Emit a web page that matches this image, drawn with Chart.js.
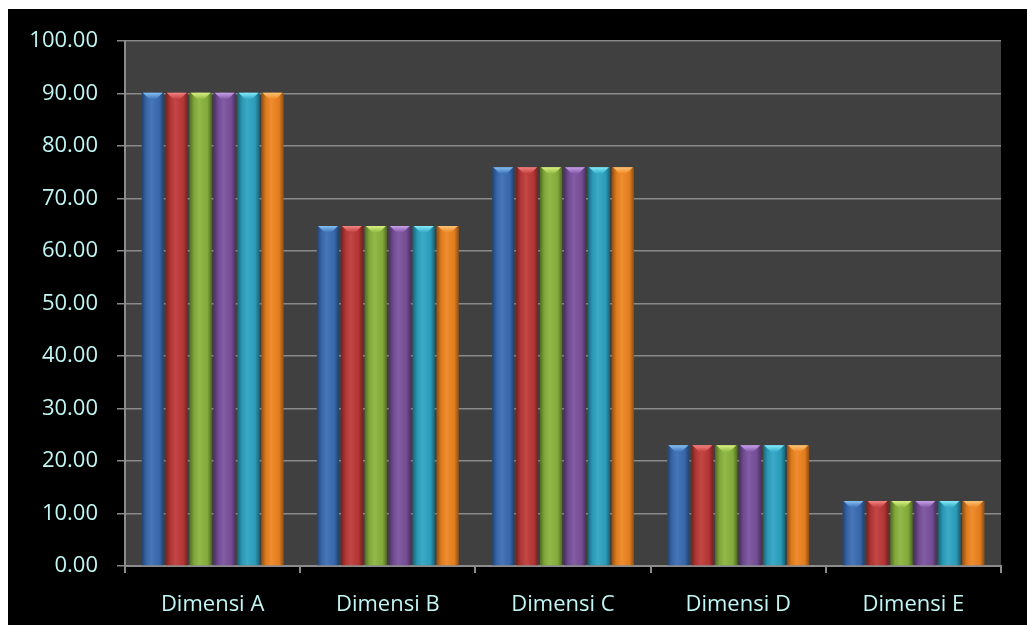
<!DOCTYPE html>
<html>
<head>
<meta charset="utf-8">
<script src="https://cdn.jsdelivr.net/npm/chart.js@4/dist/chart.umd.min.js"></script>
<style>
  html, body { margin: 0; padding: 0; background: #ffffff; }
  #wrap { position: absolute; left: 8px; top: 9px; width: 1019px; height: 616px; background: #000000; }
  canvas { display: block; }
</style>
</head>
<body>
<div id="wrap"><canvas id="c" width="1019" height="616"></canvas></div>
<script>
const categories = ['Dimensi A', 'Dimensi B', 'Dimensi C', 'Dimensi D', 'Dimensi E'];
const seriesNames = ['Series 1', 'Series 2', 'Series 3', 'Series 4', 'Series 5', 'Series 6'];
const series1 = [90.2, 64.8, 76.0, 23.0, 12.4];
const series2 = [90.2, 64.8, 76.0, 23.0, 12.4];
const series3 = [90.2, 64.8, 76.0, 23.0, 12.4];
const series4 = [90.2, 64.8, 76.0, 23.0, 12.4];
const series5 = [90.2, 64.8, 76.0, 23.0, 12.4];
const series6 = [90.2, 64.8, 76.0, 23.0, 12.4];
const yMin = 0, yMax = 100, yStep = 10;

const baseColors = ['#3a6cb3', '#bd3937', '#8ab43d', '#7a519d', '#2da4c3', '#ee8420'];
const topColors  = ['#86c2f4', '#f38484', '#dcf286', '#c9a2ec', '#86ecfa', '#fcc478'];

const allSeries = [series1, series2, series3, series4, series5, series6];

const plotBg = {
  id: 'plotBg',
  beforeDraw(chart) {
    const {ctx, chartArea: a} = chart;
    ctx.save();
    ctx.fillStyle = '#404040';
    ctx.fillRect(a.left, a.top, a.right - a.left, a.bottom - a.top);
    ctx.restore();
  }
};

const barShade = {
  id: 'barShade',
  afterDatasetsDraw(chart) {
    const ctx = chart.ctx;
    chart.data.datasets.forEach((ds, di) => {
      const meta = chart.getDatasetMeta(di);
      meta.data.forEach(bar => {
        const w = bar.width, l = bar.x - w / 2, r = bar.x + w / 2;
        const top = bar.y, bottom = bar.base;
        ctx.save();
        const g = ctx.createLinearGradient(l, 0, r, 0);
        g.addColorStop(0, 'rgba(0,0,0,0.40)');
        g.addColorStop(0.2, 'rgba(0,0,0,0.08)');
        g.addColorStop(0.45, 'rgba(255,255,255,0.07)');
        g.addColorStop(0.8, 'rgba(0,0,0,0.05)');
        g.addColorStop(1, 'rgba(0,0,0,0.40)');
        ctx.fillStyle = g;
        ctx.fillRect(l, top, w, bottom - top);
        // top bevel highlight
        const h = 7;
        const tg = ctx.createLinearGradient(0, top, 0, top + h);
        tg.addColorStop(0, topColors[di]);
        tg.addColorStop(1, baseColors[di]);
        ctx.fillStyle = tg;
        ctx.beginPath();
        ctx.moveTo(l + 1, top);
        ctx.lineTo(r - 1, top);
        ctx.lineTo(bar.x + w * 0.12, top + h);
        ctx.lineTo(bar.x - w * 0.12, top + h);
        ctx.closePath();
        ctx.fill();
        ctx.restore();
      });
    });
  }
};

const fontFamily = '"Open Sans", "DejaVu Sans", sans-serif';
const textColor = '#c0f6f4';

new Chart(document.getElementById('c'), {
  type: 'bar',
  data: {
    labels: categories,
    datasets: allSeries.map((vals, i) => ({
      label: seriesNames[i],
      data: vals,
      backgroundColor: baseColors[i],
      borderWidth: 0,
      categoryPercentage: 0.82,
      barPercentage: 0.92
    }))
  },
  options: {
    responsive: false,
    animation: false,
    events: [],
    layout: { padding: { top: 29, right: 26, left: 0, bottom: 0 } },
    plugins: {
      legend: { display: false },
      tooltip: { enabled: false },
      title: { display: false }
    },
    scales: {
      x: {
        afterFit(scale) { scale.height = 59; },
        grid: { display: true, drawOnChartArea: false, drawTicks: true, tickLength: 7, color: '#8c8c8c', lineWidth: 2 },
        border: { display: true, color: '#8c8c8c', width: 2 },
        ticks: { color: textColor, font: { family: fontFamily, size: 22 }, padding: 19 }
      },
      y: {
        min: yMin,
        max: yMax,
        afterFit(scale) { scale.width = 117; },
        grid: { color: '#8a8a8a', lineWidth: 1.5, tickLength: 8, drawTicks: true },
        border: { display: true, color: '#8c8c8c', width: 2 },
        ticks: {
          stepSize: yStep,
          color: textColor,
          padding: 19,
          font: { family: fontFamily, size: 22 },
          callback: v => Number(v).toFixed(2)
        }
      }
    }
  },
  plugins: [plotBg, barShade]
});
</script>
</body>
</html>
